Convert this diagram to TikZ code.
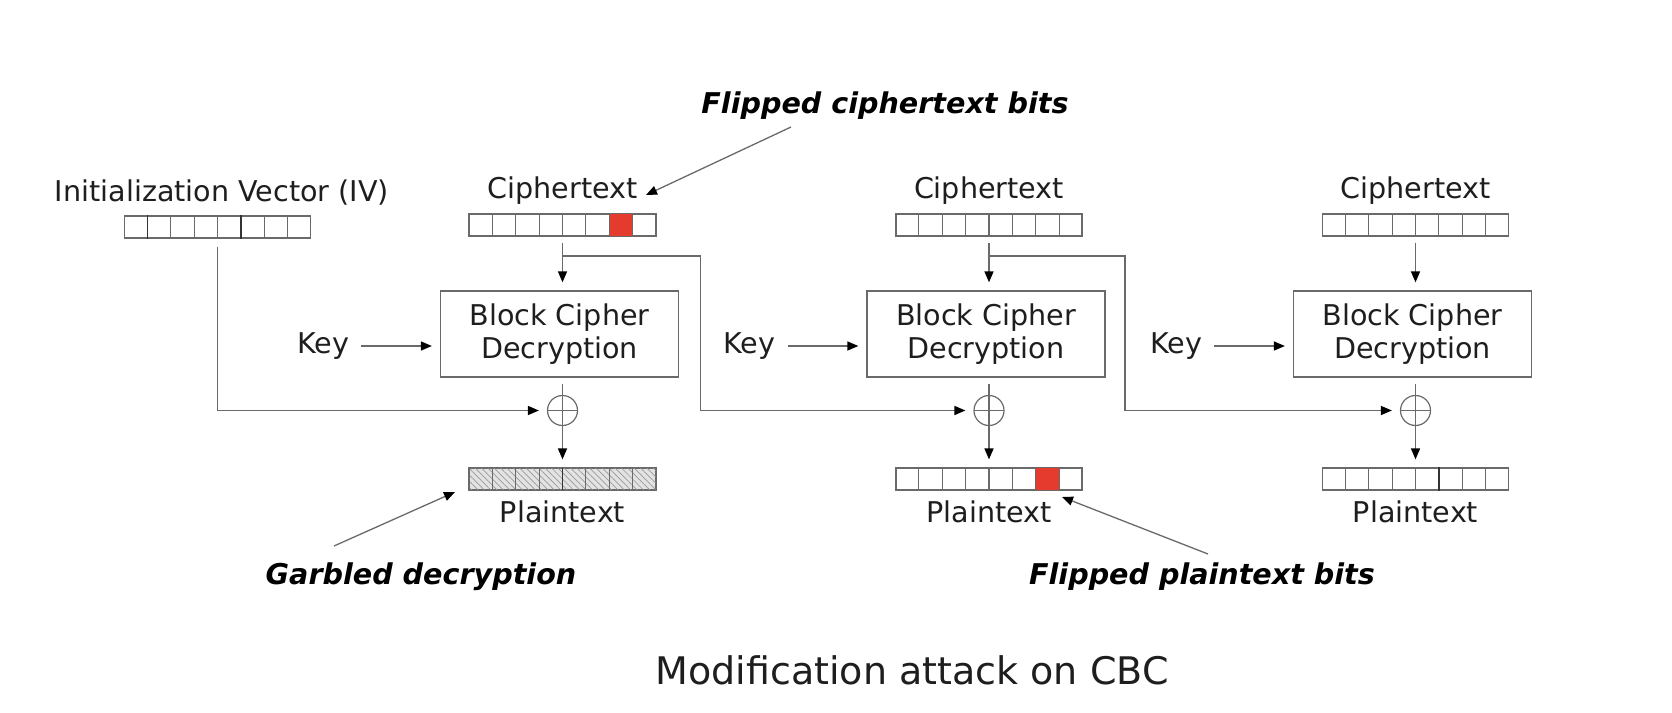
\documentclass[tikz,border=0pt]{standalone}
\usepackage{fontspec}
\setmainfont{DejaVu Sans}[ItalicFont={DejaVu Sans Oblique},BoldFont={DejaVu Sans Bold},BoldItalicFont={DejaVu Sans Bold Oblique}]
\usetikzlibrary{arrows.meta,calc,patterns.meta}
\definecolor{ln}{HTML}{6A6A6A}
\definecolor{dk}{HTML}{333333}
\definecolor{txt}{HTML}{1E1E1E}
\definecolor{flip}{HTML}{E53A2E}
\newcommand\regcells[1]{%
  \foreach \i in {1,...,7}
    \draw[ln, line width=1.1pt] ($(#1.south west)!\i/8!(#1.south east)$) -- ($(#1.north west)!\i/8!(#1.north east)$);}
\newcommand\darkcell[2]{%
  \draw[dk, line width=1.3pt] ($(#1.south west)!#2/8!(#1.south east)$) -- ($(#1.north west)!#2/8!(#1.north east)$);}
\newcommand\redcell[2]{%
  \fill[flip] ($(#1.north west)!#2/8!(#1.north east)$) rectangle ($(#1.south west)!\fpeval{#2+1}/8!(#1.south east)$);}
\begin{document}
\begin{tikzpicture}[x=1pt,y=-1pt,
  lbl/.style={font=\fontsize{28.6}{33}\selectfont, text=txt, inner sep=0pt},
  note/.style={font=\fontsize{28.6}{33}\selectfont\bfseries\itshape, text=black, inner sep=0pt},
  title/.style={font=\fontsize{38}{44}\selectfont, text=txt, inner sep=0pt},
  reg/.style={draw=ln, line width=1.2pt, fill=white, minimum width=186pt, minimum height=22pt, inner sep=0pt},
  cipher/.style={draw=ln, line width=1.3pt, minimum width=238pt, minimum height=86pt, align=center, font=\fontsize{28.6}{33}\selectfont, text=txt},
  xor/.style={circle, draw=ln, line width=1.2pt, minimum size=30pt, inner sep=0pt,
    path picture={\draw[ln, line width=1.2pt] (path picture bounding box.west) -- (path picture bounding box.east);}},
  conn/.style={draw=ln, line width=1.5pt},
  arr/.style={conn, -{Triangle[length=11pt,width=9pt,color=black]}, shorten >=8pt},
  annot/.style={draw=ln, line width=1.3pt, -{Triangle[length=11pt,width=9pt,color=black]}},
]
\useasboundingbox[fill=white] (0,0) rectangle (1672,712);

% labels on top
\node[note] (fct) at (885,106) {Flipped ciphertext bits};
\node[lbl] (ivl) at (222,193) {Initialization Vector (IV)};
\node[lbl] (cl1) at (562.5,191) {Ciphertext};
\node[lbl] (cl2) at (989,191) {Ciphertext};
\node[lbl] (cl3) at (1415.5,191) {Ciphertext};

% registers
\node[reg] (iv) at (217.5,227) {};
\node[reg] (ct1) at (562.5,225) {};
\node[reg] (ct2) at (989,225) {};
\node[reg] (ct3) at (1415.5,225) {};
\redcell{ct1}{6}
\regcells{iv}\regcells{ct1}\regcells{ct2}\regcells{ct3}
\darkcell{iv}{1}\darkcell{iv}{5}
\draw[ln, line width=1.2pt] (ct1.north west) rectangle (ct1.south east);

% cipher boxes
\node[cipher] (bc1) at (559.5,334) {Block Cipher\\Decryption};
\node[cipher] (bc2) at (986,334) {Block Cipher\\Decryption};
\node[cipher] (bc3) at (1412.5,334) {Block Cipher\\Decryption};

% keys
\node[lbl] (k1) at (323,346) {Key};
\node[lbl] (k2) at (749.5,346) {Key};
\node[lbl] (k3) at (1176,346) {Key};
\draw[arr, shorten <=12pt] (k1.east) -- (k1.east -| bc1.west);
\draw[arr, shorten <=12pt] (k2.east) -- (k2.east -| bc2.west);
\draw[arr, shorten <=12pt] (k3.east) -- (k3.east -| bc3.west);

% xor
\node[xor] (x1) at (562.5,410.5) {};
\node[xor] (x2) at (989,410.5) {};
\node[xor] (x3) at (1415.5,410.5) {};

% plaintext registers
\node[reg, fill=gray!22, postaction={pattern={Lines[angle=-45,distance=4.5pt,line width=0.7pt]}, pattern color=gray!80}] (pt1) at (562.5,479) {};
\node[reg] (pt2) at (989,479) {};
\node[reg] (pt3) at (1415.5,479) {};
\redcell{pt2}{6}
\regcells{pt1}\regcells{pt2}\regcells{pt3}
\darkcell{pt1}{4}\darkcell{pt3}{5}
\draw[ln, line width=1.2pt] (pt1.north west) rectangle (pt1.south east);
\draw[ln, line width=1.2pt] (pt2.north west) rectangle (pt2.south east);

\node[lbl] (pl1) at (562.5,512) {Plaintext};
\node[lbl] (pl2) at (989,512) {Plaintext};
\node[lbl] (pl3) at (1415.5,512) {Plaintext};

% ciphertext -> cipher box
\draw[arr, shorten <=6pt] (ct1.south) -- (ct1.south |- bc1.north);
\draw[arr, shorten <=6pt] (ct2.south) -- (ct2.south |- bc2.north);
\draw[arr, shorten <=6pt] (ct3.south) -- (ct3.south |- bc3.north);

% cipher box -> xor -> plaintext
\foreach \n in {1,2,3}{
  \draw[conn, shorten <=6pt] (bc\n.south -| x\n.north) -- (x\n.south);
  \draw[arr] (x\n.south) -- (pt\n.north);
}

% IV and chaining
\draw[arr, shorten <=8pt] (iv.south) |- (x1);
\coordinate (b1) at (562.5,256);
\coordinate (t1) at (700.5,330);
\coordinate (b2) at (989,256);
\coordinate (t2) at (1125,330);
\draw[arr] (b1) -| (t1) |- (x2);
\draw[arr] (b2) -| (t2) |- (x3);

% annotations
\node[note] (gd) at (421,577) {Garbled decryption};
\node[note] (fpb) at (1202,577) {Flipped plaintext bits};
\coordinate (fctS) at (791,127);
\coordinate (fctT) at (646,195);
\coordinate (gdS) at (334,546);
\coordinate (gdT) at (455,492);
\coordinate (fpbS) at (1208,554);
\coordinate (fpbT) at (1062,497);
\draw[annot] (fctS) -- (fctT);
\draw[annot] (gdS) -- (gdT);
\draw[annot] (fpbS) -- (fpbT);

\node[title] (ttl) at (912,670) {Modification attack on CBC};
\end{tikzpicture}
\end{document}
